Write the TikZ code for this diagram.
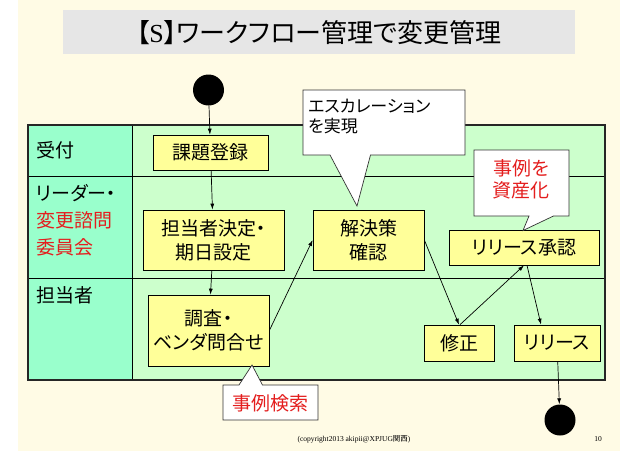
\documentclass[tikz,border=0pt]{standalone}
\usepackage{fontspec}
\setmainfont{Noto Sans CJK JP}[RawFeature=+palt]
\newfontfamily\cjkplain{Noto Sans CJK JP}
\newfontfamily\serifface{Liberation Serif}
\usetikzlibrary{arrows.meta,calc}
\definecolor{cream}{RGB}{255,251,229}
\definecolor{titlegray}{RGB}{230,230,230}
\definecolor{lanelabel}{RGB}{153,255,204}
\definecolor{lanebody}{RGB}{204,255,204}
\definecolor{boxyellow}{RGB}{255,255,153}
\definecolor{redtxt}{RGB}{228,30,30}
\tikzset{
  actbox/.style={draw=black, line width=0.7pt, fill=boxyellow, inner sep=0pt, align=center, font=\fontsize{19}{24}\selectfont},
  flow/.style={-{Latex[length=6pt,width=4pt]}, line width=0.7pt},
  dot/.style={circle, fill=black, inner sep=0pt, minimum size=31pt},
  callout/.style={draw=black!80, line width=0.7pt, fill=white, line join=miter},
  lanetext/.style={anchor=west, inner sep=0pt, align=left, font=\fontsize{19}{27}\selectfont},
}
\begin{document}
\begin{tikzpicture}[x=1pt,y=-1pt]
\useasboundingbox (0,0) rectangle (638,451);
\fill[white] (0,0) rectangle (638,451);
\fill[cream] (18,0) rectangle (620,451);
\fill[titlegray] (63,10) rectangle (575,54);
\node[font=\fontsize{26}{30}\selectfont, inner sep=0pt] (title) at (319,33) {【{\serifface S}】ワークフロー管理で変更管理};

% swimlanes
\fill[lanebody] (28,125) rectangle (605,380);
\fill[lanelabel] (28,125) rectangle (132,380);
\draw[line width=0.8pt] (28,176) -- (605,176) (28,278) -- (605,278) (132,125) -- (132,380);
\draw[line width=2pt, draw=black!85] (28,125) rectangle (605,380);

\node[lanetext] (laneuke) at (36,150.5) {受付};
\node[lanetext] (laneleader) at (36,220) {リーダー・\\\textcolor{redtxt}{変更諮問}\\\textcolor{redtxt}{委員会}};
\node[lanetext] (lanetanto) at (36,295) {担当者};

% activities
\node[actbox, minimum width=115, minimum height=35] (kadai) at (210.5,152.5) {課題登録};
\node[actbox, minimum width=141, minimum height=60] (tanto) at (213.5,240) {担当者決定・\\期日設定};
\node[actbox, minimum width=121, minimum height=71] (chosa) at (208.5,330.5) {調査・\\ベンダ問合せ};
\node[actbox, minimum width=111, minimum height=60] (kaiketsu) at (368.5,240) {解決策\\確認};
\node[actbox, minimum width=150, minimum height=35] (shounin) at (524,247.5) {リリース承認};
\node[actbox, minimum width=70, minimum height=36] (shusei) at (459,343) {修正};
\node[actbox, minimum width=86, minimum height=36] (release) at (557,343) {リリース};

\node[dot] (start) at (208.5,90) {};
\node[dot] (end) at (560,420) {};

% flows
\draw[flow] (start) -- (kadai);
\draw[flow] (kadai) -- (tanto);
\draw[flow] (tanto) -- (chosa);
\draw[flow] (chosa.east) -- (kaiketsu.west);
\draw[flow] (kaiketsu.east) -- (shusei.north);
\draw[flow] ([xshift=1pt]shusei.north) -- (shounin.south);
\draw[flow] ([xshift=3pt]shounin.south) -- ([xshift=-16pt]release.north);
\draw[flow] (release) -- (end);

% callouts
\draw[callout] (303,90) -- (465,90) -- (465,155) -- (370.5,155) -- (357,206) -- (330,155) -- (303,155) -- cycle;
\node[anchor=west, align=left, inner sep=0pt, font=\fontsize{17}{20}\selectfont] (esc) at (308,117) {エスカレーション\\を実現};

\draw[callout] (474,150) -- (569,150) -- (569,216) -- (553.5,216) -- (523,230.5) -- (529,216) -- (474,216) -- cycle;
\node[align=center, inner sep=0pt, text=redtxt, font=\fontsize{19}{22}\selectfont] (asset) at (521,179) {事例を\\資産化};

\draw[callout] (223,385) -- (239,385) -- (252,365) -- (262.5,385) -- (318,385) -- (318,420) -- (223,420) -- cycle;
\node[inner sep=0pt, text=redtxt, font=\fontsize{19}{22}\selectfont] (search) at (270.5,403) {事例検索};

% footer
\node[inner sep=0pt, font=\fontsize{7.5}{9}\selectfont\serifface] (copy) at (354,439) {(copyright2013 akipii@XPJUG{\cjkplain 関西})};
\node[inner sep=0pt, font=\fontsize{7.5}{9}\selectfont\serifface] (pageno) at (598,439) {10};
\end{tikzpicture}
\end{document}
